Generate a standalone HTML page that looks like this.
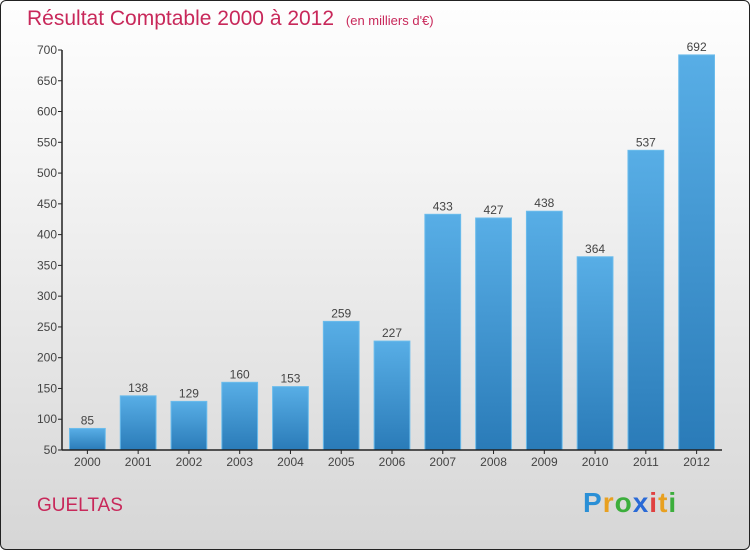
<!DOCTYPE html>
<html><head><meta charset="utf-8"><style>
body{margin:0}
#wrap{position:relative;width:748px;height:548px;border:1px solid #222;border-radius:6px;background:linear-gradient(#fefefe,#f4f4f4 30%,#d6d6d6);overflow:hidden;font-family:"Liberation Sans",sans-serif}
.t{position:absolute;white-space:nowrap}
</style></head><body>
<div id="wrap">
<div class="t" style="left:26px;top:6px;font-size:21px;color:#c8285a">Résultat Comptable 2000 à 2012 <span style="font-size:13px;color:#c8285a;margin-left:6px">(en milliers d'€)</span></div>
<div class="t" style="left:36px;top:494px;font-size:19px;color:#c8285a">GUELTAS</div>
<div class="t" style="left:582px;top:486px;font-size:28px;font-weight:bold;letter-spacing:1px"><span style="color:#2a8fd6">P</span><span style="color:#e8a020">r</span><span style="color:#3cae3c">o</span><span style="color:#2a6ad6">x</span><span style="color:#e04040">i</span><span style="color:#e8a020">t</span><span style="color:#3cae3c">i</span></div>
<svg id="chart" width="750" height="550" style="position:absolute;left:-1px;top:-1px">
<defs><linearGradient id="g" x1="0" y1="0" x2="0" y2="1"><stop offset="0" stop-color="#58aee6"/><stop offset="1" stop-color="#2a7bb8"/></linearGradient></defs>
</svg>
</div>
<script>
const categories=["2000","2001","2002","2003","2004","2005","2006","2007","2008","2009","2010","2011","2012"];
const values=[85,138,129,160,153,259,227,433,427,438,364,537,692];
const yTicks=[50,100,150,200,250,300,350,400,450,500,550,600,650,700];
const svg=document.getElementById('chart');
const NS='http://www.w3.org/2000/svg';
const x0=62,x1=722,yTop=50,yBot=450,yMin=50,yMax=700;
const y=v=>yBot-(v-yMin)/(yMax-yMin)*(yBot-yTop);
const bw=(x1-x0)/categories.length;
const x=i=>x0+i*bw;
function mk(tag,attrs,txt){const e=document.createElementNS(NS,tag);for(const k in attrs)e.setAttribute(k,attrs[k]);if(txt!==undefined)e.textContent=txt;svg.appendChild(e);return e;}
yTicks.forEach(t=>{
 const l=mk('line',{x1:x0-4,x2:x0,y1:y(t),y2:y(t),stroke:'#222'});
 
 
 const tx=mk('text',{x:x0-5,y:y(t)+4,'text-anchor':'end','font-size':12,fill:'#444','font-family':'Liberation Sans'},t);
 
 
});
values.forEach((v,i)=>{
 const r=mk('rect',{x:x(i)+7.5,y:y(v),width:bw-15,height:yBot-y(v),fill:'url(#g)',stroke:'#6bbcec','stroke-width':1});
 
 
 const lb=mk('text',{x:x(i)+bw/2,y:y(v)-4,'text-anchor':'middle','font-size':12,fill:'#444','font-family':'Liberation Sans'},v);
 
 
 const tk=mk('line',{x1:x(i)+bw/2,x2:x(i)+bw/2,y1:yBot,y2:yBot+4,stroke:'#222'});
 
 
 const cl=mk('text',{x:x(i)+bw/2,y:yBot+16,'text-anchor':'middle','font-size':12,fill:'#444','font-family':'Liberation Sans'},categories[i]);
 
 
});
const ya=mk('line',{x1:x0,x2:x0,y1:yTop,y2:yBot,stroke:'#222','stroke-width':1.5});


const xa=mk('line',{x1:x0,x2:x1,y1:yBot,y2:yBot,stroke:'#222','stroke-width':1.5});


</script>
</body></html>
